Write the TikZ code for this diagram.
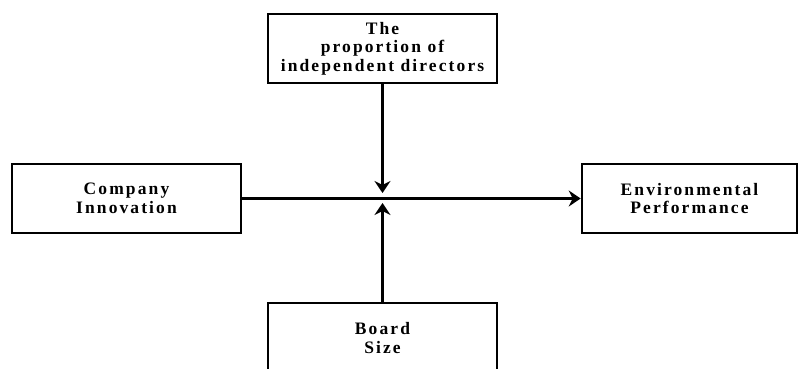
\documentclass[tikz,border=0pt]{standalone}
\usepackage{fontspec}
\newfontfamily\boxfont{Liberation Serif}[LetterSpace=12]
\usetikzlibrary{positioning, arrows.meta}

\begin{document}
\begin{tikzpicture}[x=1pt, y=1pt,
    varbox/.style={draw, line width=2.6pt, minimum width=229pt, minimum height=69pt,
        inner sep=0pt, align=center,
        font=\boxfont\bfseries\fontsize{17.5}{18.5}\selectfont},
    link/.style={line width=2.2pt, -{Stealth[length=12pt, width=16pt, inset=4pt]}}]
    \clip (0,0) rectangle (798,368);
    \useasboundingbox (0,0) rectangle (798,368);

    \node [varbox] (CI) at (126.5,169.5) {Company\\Innovation};
    \node [varbox, minimum width=215pt] (EP) at (689.5,169.5) {Environmental\\Performance};
    \node [varbox] (PID) at (382.5,319.5) {The\\proportion of\\independent directors};
    \node [varbox, minimum height=70pt] (BS) at (382.5,30) {Board\\Size};

    % free ends of the moderator arrows
    \coordinate (meetTop) at (382.5,175);
    \coordinate (meetBot) at (382.5,165);

    \draw [link] (CI.east) -- (EP.west);
    \draw [link] (PID.south) -- (meetTop);
    \draw [link] (BS.north) -- (meetBot);
\end{tikzpicture}
\end{document}
